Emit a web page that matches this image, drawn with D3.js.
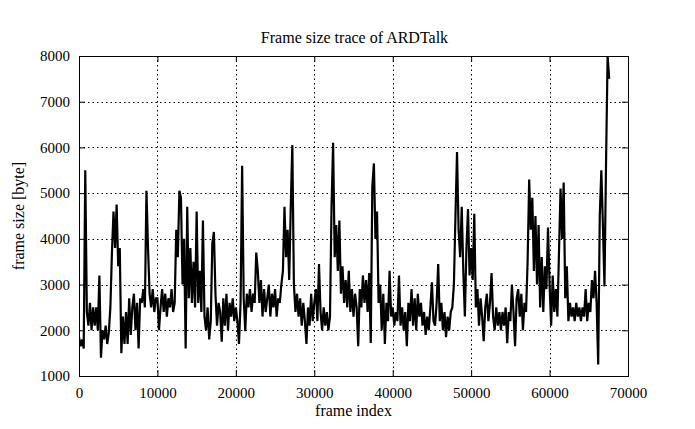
<!DOCTYPE html>
<html>
<head>
<meta charset="utf-8">
<script src="https://cdn.jsdelivr.net/npm/d3@7/dist/d3.min.js"></script>
<style>
  html, body { margin: 0; padding: 0; background: #fff; }
  svg { display: block; }
  text { font-family: "Liberation Serif", "Times New Roman", serif; fill: #000; }
</style>
</head>
<body>
<script>
// ---- Data ----
const title = "Frame size trace of ARDTalk";
const xLabel = "frame index";
const yLabel = "frame size [byte]";
const xTicks = [0, 10000, 20000, 30000, 40000, 50000, 60000, 70000];
const yTicks = [1000, 2000, 3000, 4000, 5000, 6000, 7000, 8000];
const sampleStep = 200; // frames between successive samples of the trace
const frameSizes = [
  1850, 1650, 1800, 1600, 5500, 2400, 2100, 2600, 2000, 2500,
  2100, 2500, 2000, 3200, 1400, 2000, 1800, 2100, 1700, 1950,
  2500, 3700, 4600, 3800, 4750, 3400, 3800, 1500, 2300, 1700,
  2400, 1700, 2700, 1900, 2500, 2800, 2000, 2600, 1600, 2700,
  2600, 2900, 2500, 5050, 3800, 2800, 2500, 2900, 2400, 2700,
  2700, 2000, 2500, 2900, 2400, 2800, 2300, 2700, 2500, 2900,
  2400, 2600, 4200, 3600, 5050, 4900, 3000, 4000, 1600, 4700,
  2700, 3800, 2600, 3500, 2500, 4600, 2600, 3300, 2400, 4400,
  2300, 2000, 2500, 1800, 2200, 3900, 4150, 2800, 2100, 2600,
  2400, 1750, 2700, 2100, 2800, 2000, 2600, 2300, 2700, 2200,
  2500, 2200, 1700, 2600, 5600, 2700, 1980, 2800, 2500, 2900,
  2400, 2800, 2600, 3700, 3300, 2600, 3100, 2300, 2900, 2400,
  2700, 3000, 2300, 2800, 2500, 2900, 2300, 2700, 2600, 3000,
  3300, 4700, 3600, 4200, 3100, 4700, 6050, 3000, 2400, 2800,
  2300, 2700, 2100, 2600, 2200, 1700, 2500, 2100, 2800, 2200,
  2600, 2900, 2200, 3450, 2400, 2000, 2500, 2100, 2400, 2000,
  2300, 4700, 6100, 3600, 4300, 3300, 4400, 2800, 3400, 2600,
  3100, 2500, 3300, 2400, 2900, 2300, 2800, 2500, 1650, 2900,
  2500, 3200, 2600, 3100, 2400, 3250, 1720, 5150, 5650, 4000,
  4600, 2600, 3000, 2000, 2800, 1700, 2600, 2200, 3300, 2300,
  2500, 2100, 2400, 2200, 3200, 2100, 2500, 2000, 2400, 1650,
  2600, 2200, 2900, 2100, 2700, 2000, 2800, 2300, 2600, 2100,
  2400, 1900, 2300, 2000, 2500, 3050, 2200, 2100, 2600, 3450,
  2200, 2600, 2000, 2400, 1850, 2300, 2000, 2400, 2500, 3000,
  4500, 5900, 4200, 3600, 4700, 3300, 2300, 3800, 4650, 3200,
  3800, 3100, 4550, 2500, 2900, 2100, 2700, 2300, 1760, 2500,
  2800, 2200, 2600, 3250, 2300, 2000, 2500, 2100, 2400, 2000,
  2400, 2100, 2500, 1720, 2400, 2200, 3000, 2400, 1650, 2700,
  2900, 2300, 2800, 2000, 2600, 2400, 3500, 5300, 4200, 4900,
  3300, 4500, 3000, 4300, 2500, 3600, 2400, 3400, 2900, 4250,
  3000, 2100, 3200, 2400, 2900, 2300, 3700, 5100, 4000, 5230,
  2700, 3400, 2200, 2600, 2300, 2500, 2200, 2600, 2300, 2500,
  2200, 2500, 2300, 2900, 2200, 2600, 2400, 3100, 2700, 3300,
  2600, 1250, 4500, 5500, 4300, 2960, 5650, 8000, 7500
];
const frameIndex = frameSizes.map((_, i) => i * sampleStep);

// ---- Layout ----
const W = 695, H = 429;
const m = { left: 79, right: 67, top: 56, bottom: 53 };
const pw = W - m.left - m.right, ph = H - m.top - m.bottom;

const svg = d3.select("body").append("svg").attr("width", W).attr("height", H);

const x = d3.scaleLinear().domain([0, 70000]).range([m.left, m.left + pw]);
const y = d3.scaleLinear().domain([1000, 8000]).range([m.top + ph, m.top]);

// grid
const grid = svg.append("g").attr("stroke", "#000").attr("stroke-width", 1)
  .attr("stroke-dasharray", "1.5,3");
grid.selectAll(".gx").data(xTicks.slice(1, -1)).enter().append("line")
  .attr("x1", d => Math.round(x(d)) + 0.5).attr("x2", d => Math.round(x(d)) + 0.5)
  .attr("y1", m.top).attr("y2", m.top + ph);
grid.selectAll(".gy").data(yTicks.slice(1, -1)).enter().append("line")
  .attr("y1", d => Math.round(y(d)) + 0.5).attr("y2", d => Math.round(y(d)) + 0.5)
  .attr("x1", m.left).attr("x2", m.left + pw);

// axes (inward ticks, mirrored)
const tickLen = 6;
const fontSize = 15;
const labelSize = 16;
const xAxisB = d3.axisBottom(x).tickValues(xTicks).tickSizeInner(-tickLen).tickSizeOuter(0).tickPadding(tickLen + 5).tickFormat(d3.format("d"));
const xAxisT = d3.axisTop(x).tickValues(xTicks).tickSizeInner(-tickLen).tickSizeOuter(0).tickFormat("");
const yAxisL = d3.axisLeft(y).tickValues(yTicks).tickSizeInner(-tickLen).tickSizeOuter(0).tickPadding(tickLen + 3).tickFormat(d3.format("d"));
const yAxisR = d3.axisRight(y).tickValues(yTicks).tickSizeInner(-tickLen).tickSizeOuter(0).tickFormat("");

function styleAxis(g) {
  g.select(".domain").remove();
  g.selectAll("line").attr("stroke", "#000");
  g.selectAll("text").attr("font-size", fontSize).attr("font-family", "Liberation Serif").attr("fill", "#000");
}
svg.append("g").attr("transform", `translate(0,${m.top + ph})`).call(xAxisB).call(styleAxis);
svg.append("g").attr("transform", `translate(0,${m.top})`).call(xAxisT).call(styleAxis);
svg.append("g").attr("transform", `translate(${m.left},0)`).call(yAxisL).call(styleAxis);
svg.append("g").attr("transform", `translate(${m.left + pw},0)`).call(yAxisR).call(styleAxis);

// clip
svg.append("clipPath").attr("id", "clip").append("rect")
  .attr("x", m.left).attr("y", m.top).attr("width", pw).attr("height", ph);

// trace
const line = d3.line().x((d, i) => x(frameIndex[i])).y(d => y(d));
svg.append("path").datum(frameSizes)
  .attr("clip-path", "url(#clip)")
  .attr("fill", "none").attr("stroke", "#000").attr("stroke-width", 2.2)
  .attr("stroke-linejoin", "miter").attr("d", line);

// border
svg.append("rect").attr("x", m.left + 0.5).attr("y", m.top + 0.5)
  .attr("width", pw).attr("height", ph)
  .attr("fill", "none").attr("stroke", "#000").attr("stroke-width", 1);

// titles
svg.append("text").attr("x", m.left + pw / 2 + 1).attr("y", 43)
  .attr("text-anchor", "middle").attr("font-size", labelSize).text(title);
svg.append("text").attr("x", m.left + pw / 2).attr("y", 416)
  .attr("text-anchor", "middle").attr("font-size", labelSize).text(xLabel);
svg.append("text").attr("transform", `translate(24,${m.top + ph / 2}) rotate(-90)`)
  .attr("text-anchor", "middle").attr("font-size", labelSize).text(yLabel);
</script>
</body>
</html>
